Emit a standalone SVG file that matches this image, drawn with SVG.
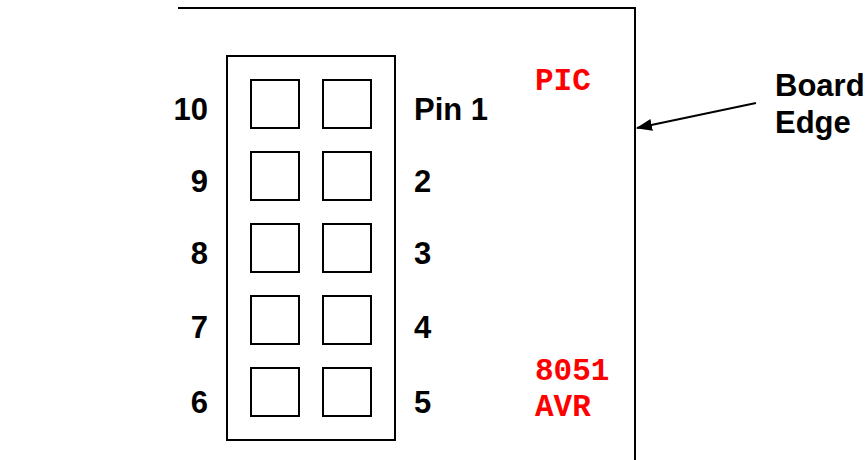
<svg xmlns="http://www.w3.org/2000/svg" width="868" height="460" viewBox="0 0 868 460">
<style>
.ln{fill:none;stroke:#000;stroke-width:2}
.lbl{font-family:"Liberation Sans",Arial,sans-serif;font-weight:bold;font-size:31px;fill:#000}
.l{text-anchor:end}
.red{font-family:"Liberation Mono","Courier New",monospace;font-weight:bold;font-size:31px;fill:#ff0000}
</style>
<defs>
<marker id="ah" markerWidth="16" markerHeight="12" refX="15" refY="6" orient="auto" markerUnits="userSpaceOnUse">
<path d="M0,0 L16,6 L0,12 Z" fill="#000"/>
</marker>
</defs>
<rect width="868" height="460" fill="#fff"/>
<g id="board">
<path class="ln" d="M178,8 H635 V460"/>
</g>
<g id="connector">
<rect class="ln" x="227" y="56" width="168" height="384"/>
</g>
<g id="pads">
<rect class="ln" x="251" y="80" width="48" height="48"/>
<rect class="ln" x="323" y="80" width="48" height="48"/>
<rect class="ln" x="251" y="152" width="48" height="48"/>
<rect class="ln" x="323" y="152" width="48" height="48"/>
<rect class="ln" x="251" y="224" width="48" height="48"/>
<rect class="ln" x="323" y="224" width="48" height="48"/>
<rect class="ln" x="251" y="296" width="48" height="48"/>
<rect class="ln" x="323" y="296" width="48" height="48"/>
<rect class="ln" x="251" y="368" width="48" height="48"/>
<rect class="ln" x="323" y="368" width="48" height="48"/>
</g>
<g id="pin-labels">
<text class="lbl l" x="208" y="120">10</text>
<text class="lbl l" x="208" y="192">9</text>
<text class="lbl l" x="208" y="264">8</text>
<text class="lbl l" x="208" y="338">7</text>
<text class="lbl l" x="208" y="413">6</text>
<text class="lbl" x="414" y="120">Pin 1</text>
<text class="lbl" x="414" y="192">2</text>
<text class="lbl" x="414" y="264">3</text>
<text class="lbl" x="414" y="338">4</text>
<text class="lbl" x="414" y="413">5</text>
</g>
<g id="chip-labels">
<text class="red" x="535" y="90">PIC</text>
<text class="red" x="535" y="380">8051</text>
<text class="red" x="535" y="416">AVR</text>
</g>
<g id="board-edge-label">
<text class="lbl" x="775" y="96">Board</text>
<text class="lbl" x="775" y="133">Edge</text>
</g>
<g id="connectors">
<line x1="756" y1="103" x2="637" y2="128" stroke="#000" stroke-width="2" marker-end="url(#ah)"/>
</g>
</svg>
